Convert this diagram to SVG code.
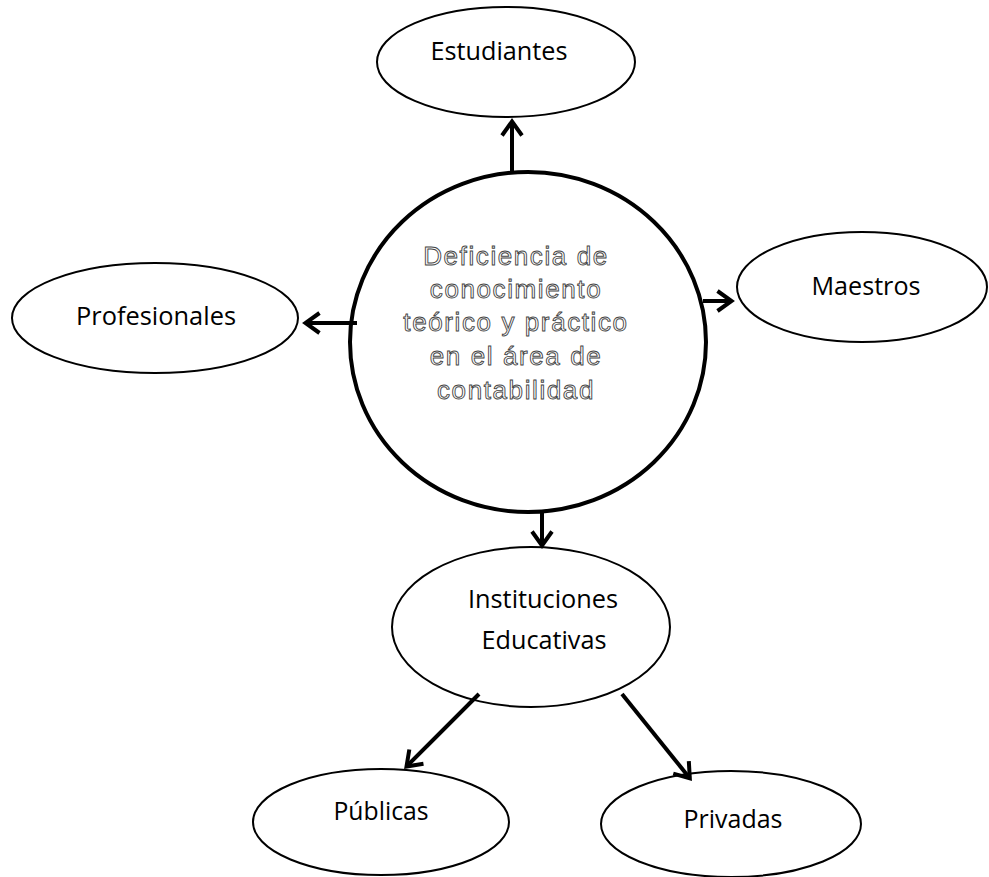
<svg xmlns="http://www.w3.org/2000/svg" width="989" height="877" viewBox="0 0 989 877">
<defs>
<style>
.node ellipse{fill:#fff;stroke:#000;stroke-width:2}
.lbl{font-family:"Open Sans","Noto Sans","Liberation Sans",sans-serif;font-size:25px;fill:#000;text-anchor:middle}
.hollow{font-family:"Liberation Sans",Arial,sans-serif;font-size:26px;letter-spacing:1.6px;fill:#fff;stroke:#444;stroke-width:0.9;text-anchor:middle}
.conn line{stroke:#000;stroke-width:4;fill:none}
</style>
<marker id="arr" markerUnits="userSpaceOnUse" viewBox="-18 -13 24 26" markerWidth="24" markerHeight="26" refX="0" refY="0" orient="auto">
<path d="M-14,-10 L0,0 L-14,10" fill="none" stroke="#000" stroke-width="4" stroke-linejoin="miter"/>
</marker>
</defs>
<rect width="989" height="877" fill="#fff"/>
<g id="estudiantes" class="node">
<ellipse cx="506" cy="62" rx="129" ry="55"/>
<text class="lbl" x="499" y="60" textLength="137" lengthAdjust="spacingAndGlyphs">Estudiantes</text>
</g>
<g id="profesionales" class="node">
<ellipse cx="155" cy="318" rx="143" ry="55"/>
<text class="lbl" x="156" y="325" textLength="160" lengthAdjust="spacingAndGlyphs">Profesionales</text>
</g>
<g id="maestros" class="node">
<ellipse cx="862" cy="287" rx="125" ry="55"/>
<text class="lbl" x="866" y="295" textLength="109" lengthAdjust="spacingAndGlyphs">Maestros</text>
</g>
<g id="instituciones" class="node">
<ellipse cx="531" cy="627" rx="139" ry="80"/>
<text class="lbl" x="543" y="608" textLength="150" lengthAdjust="spacingAndGlyphs">Instituciones</text>
<text class="lbl" x="544" y="649" textLength="125" lengthAdjust="spacingAndGlyphs">Educativas</text>
</g>
<g id="publicas" class="node">
<ellipse cx="381" cy="822" rx="128" ry="53"/>
<text class="lbl" x="381" y="820" textLength="95" lengthAdjust="spacingAndGlyphs">Públicas</text>
</g>
<g id="privadas" class="node">
<ellipse cx="731" cy="824" rx="130" ry="53"/>
<text class="lbl" x="733" y="828" textLength="99" lengthAdjust="spacingAndGlyphs">Privadas</text>
</g>
<g id="deficiencia">
<ellipse cx="528" cy="342" rx="178" ry="170" fill="#fff" stroke="#000" stroke-width="4"/>
<text class="hollow" x="516" y="265">Deficiencia de</text>
<text class="hollow" x="516" y="298">conocimiento</text>
<text class="hollow" x="516" y="331">teórico y práctico</text>
<text class="hollow" x="516" y="365">en el área de</text>
<text class="hollow" x="516" y="399">contabilidad</text>
</g>
<g id="connectors" class="conn">
<line x1="512" y1="174" x2="512" y2="121.5" marker-end="url(#arr)"/>
<line x1="357" y1="323" x2="305.5" y2="323" marker-end="url(#arr)"/>
<line x1="703" y1="301" x2="731.5" y2="301" marker-end="url(#arr)"/>
<line x1="542" y1="510" x2="542" y2="545.5" marker-end="url(#arr)"/>
<line x1="479" y1="694" x2="406.5" y2="766.5" marker-end="url(#arr)"/>
<line x1="622" y1="694" x2="689.8" y2="778.3" marker-end="url(#arr)"/>
</g>
</svg>
